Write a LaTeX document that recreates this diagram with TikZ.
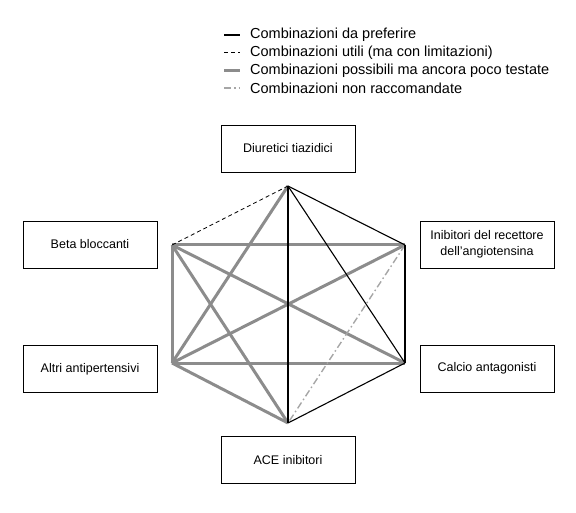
\documentclass[tikz,border=0pt]{standalone}
\usepackage{fontspec}
\setsansfont{Liberation Sans}
\usetikzlibrary{positioning}
\definecolor{mGray}{HTML}{8C8C8C}
\definecolor{mLight}{HTML}{A6A6A6}

\begin{document}
\begin{tikzpicture}[
  x=1pt, y=-1pt,
  every node/.style={font=\sffamily},
  farmaco/.style={draw, line width=0.9pt, minimum width=134pt, minimum height=47pt,
                  align=center, inner sep=2pt,
                  font=\sffamily\fontsize{12.5}{15.5}\selectfont},
  preferire/.style={black, line width=1.1pt},
  utili/.style={black, line width=0.8pt, dash pattern=on 4pt off 3pt},
  possibili/.style={mGray, line width=3pt},
  sconsigliate/.style={mLight, line width=1.4pt, dash pattern=on 7pt off 3pt on 1.5pt off 3pt},
]
  % Bounding box
  \useasboundingbox (0,0) rectangle (576,513);

  % Legend
  \foreach \i/\y/\stile/\testo in {1/35/preferire/Combinazioni da preferire,
      2/52.5/utili/Combinazioni utili (ma con limitazioni),
      3/70.5/possibili/Combinazioni possibili ma ancora poco testate,
      4/88/sconsigliate/Combinazioni non raccomandate} {
    \coordinate (la\i) at (224,\y);
    \coordinate (lb\i) at (240,\y);
    \draw[\stile] (la\i) -- (lb\i);
    \node[anchor=west, inner sep=0pt, font=\sffamily\fontsize{14.5}{17}\selectfont]
      (leg\i) at (250,\y) {\testo};
  }
  % make the legend solid line a bit heavier
  \draw[black, line width=2pt] (la1) -- (lb1);

  % Drug boxes
  \node[farmaco] (diuretici) at (288,148.5) {Diuretici tiazidici};
  \node[farmaco] (sartani)   at (487,244.5) {Inibitori del recettore\\dell'angiotensina};
  \node[farmaco] (beta)      at (90,244.5)  {Beta bloccanti};
  \node[farmaco] (altri)     at (90,369)    {Altri antipertensivi};
  \node[farmaco] (calcio)    at (487,368.5) {Calcio antagonisti};
  \node[farmaco] (ace)       at (288,460)   {ACE inibitori};

  % Hexagon corners
  \coordinate (pD) at (288,186);
  \coordinate (pS) at (405,245);
  \coordinate (pC) at (405,363);
  \coordinate (pA) at (288,423);
  \coordinate (pX) at (172,363);
  \coordinate (pB) at (172,245);

  % Possible combinations
  \draw[possibili] (pB) -- (pS);
  \draw[possibili] (pB) -- (pX);
  \draw[possibili] (pB) -- (pC);
  \draw[possibili] (pB) -- (pA);
  \draw[possibili] (pX) -- (pD);
  \draw[possibili] (pX) -- (pS);
  \draw[possibili] (pX) -- (pC);
  \draw[possibili] (pX) -- (pA);

  % Not recommended
  \draw[sconsigliate] (pS) -- (pA);

  % Useful with limits
  \draw[utili] (pD) -- (pB);

  % Preferred combinations
  \draw[preferire] (pD) -- (pS);
  \draw[preferire] (pD) -- (pC);
  \draw[preferire] (pD) -- (pA);
  \draw[preferire] (pS) -- (pC);
  \draw[preferire] (pC) -- (pA);
\end{tikzpicture}
\end{document}
